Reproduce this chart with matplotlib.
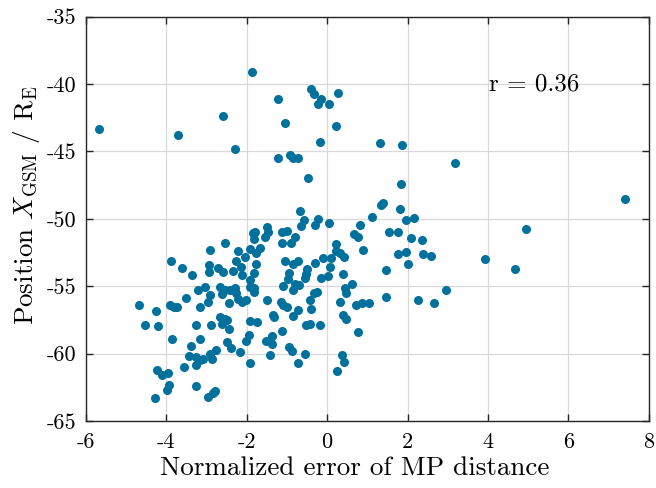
import matplotlib
matplotlib.use("Agg")
import matplotlib.pyplot as plt

# Normalized MP distance error vs. X_GSM position
err = [
    -1.87, -0.40, -0.33, 0.28, -0.16, -0.24, 0.05, -1.22, -1.04, -2.59,
    -5.67, -3.70, 0.22, -0.17, 1.32, 1.86, -2.30, -1.22, -0.93, -0.85,
    -0.73, 3.17, -0.48, 1.83, 7.41, 1.39, 1.35, -0.67, 1.82, 1.12,
    2.16, 1.95, -0.58, -0.22, -0.66, -0.29, 0.05, 0.81, 4.95,
    -1.50, -1.47, -1.85, -1.80, -1.83, -1.55, -1.13, -0.99, -0.80, -1.12,
    -0.90, 0.66, 0.76, 1.54, 1.75, 2.09, 2.35, -2.55, 0.21, 0.88,
    -2.92, -2.22, -1.93, -1.66, -1.77, 1.75, 1.97, 2.38, 2.59, 0.22,
    0.32, 0.41, -0.11, 0.09, 3.93, -2.05, -2.27, -1.05, -0.73, -1.76,
    -2.93, -0.31, -0.86, 2.02, -3.88, -3.62, -2.71, -2.59, -2.35, -2.94,
    -2.15, -2.13, -1.81, 0.06, -0.50, -0.52, -0.55, 4.67, 1.47, -3.37,
    0.39, -0.95, -0.98, -0.15, 0.03, -1.92, -1.92, -1.82, -2.67, -2.54,
    -2.42, -2.29, -2.27, -1.83, -1.10, -0.80, -0.71, -0.84, 0.62, 0.44,
    0.46, -0.26, -0.32, 2.95, -3.05, -3.21, -2.92, -2.96, -2.62, -3.52,
    1.46, -1.50, -0.43, -2.02, -2.21, -2.13, -2.44, -4.68, -3.91, -3.82,
    -3.74, -3.17, -1.16, -1.09, -1.00, 0.33, 0.71, 0.87, 1.04, 2.25,
    2.67, -0.39, -0.72, -4.25, -1.35, -1.33, -0.85, 0.39, 0.46, -2.67,
    -2.55, -2.50, -1.93, -1.75, -2.62, -4.53, -4.21, -3.25, -2.88, -0.53,
    -0.42, -0.17, -2.44, -1.12, 0.76, -3.87, -3.17, -1.94, -1.36, -1.42,
    -1.38, -1.53, -2.02, -2.50, -3.38, -2.39, -2.18, -0.94, -0.88, -3.43,
    -3.25, -3.16, -3.08, -2.92, -2.87, -2.76, -3.26, -1.43, -0.54, 0.38,
    0.42, -3.55, -1.91, -0.73, 0.25, -4.24, -4.12, -3.96, -3.94, -3.98,
    -3.26, -2.78, -2.83, -2.96, -4.29,
]
xgsm = [
    -39.1, -40.4, -40.75, -40.7, -41.1, -41.5, -41.5, -41.1, -42.9, -42.4,
    -43.35, -43.8, -43.1, -44.3, -44.37, -44.5, -44.8, -45.45, -45.3, -45.45,
    -45.45, -45.85, -46.97, -47.43, -48.5, -48.85, -49.0, -49.45, -49.25, -49.88,
    -49.9, -50.12, -50.05, -50.02, -50.5, -50.45, -50.28, -50.42, -50.75,
    -50.6, -50.95, -51.02, -50.95, -51.5, -51.35, -51.0, -50.88, -51.38, -51.82,
    -51.82, -51.15, -51.35, -50.95, -50.95, -51.4, -51.6, -51.8, -51.88, -52.28,
    -52.3, -52.4, -52.25, -52.15, -52.55, -52.58, -52.45, -52.6, -52.78, -52.38,
    -52.55, -52.85, -52.88, -52.9, -52.95, -52.8, -53.1, -53.1, -53.1, -53.35,
    -53.4, -53.25, -53.38, -53.35, -53.1, -53.65, -53.65, -53.95, -53.85, -53.95,
    -53.6, -54.15, -54.05, -53.6, -53.75, -54.1, -54.4, -53.7, -53.78, -54.15,
    -54.1, -54.05, -54.45, -54.38, -54.25, -54.5, -55.08, -55.1, -55.02, -55.3,
    -55.3, -55.15, -55.5, -55.45, -54.98, -54.85, -54.88, -55.25, -54.82, -55.1,
    -55.5, -55.4, -55.5, -55.3, -55.08, -55.28, -55.65, -56.2, -55.55, -55.85,
    -55.82, -56.05, -56.02, -56.0, -55.92, -56.17, -56.22, -56.38, -56.38, -56.52,
    -56.52, -56.5, -56.15, -56.42, -56.5, -56.2, -56.38, -56.22, -56.22, -56.0,
    -56.25, -56.65, -56.78, -56.8, -57.1, -57.3, -57.2, -57.12, -57.42, -57.3,
    -57.4, -57.48, -57.55, -57.68, -57.78, -57.85, -57.98, -57.88, -57.88, -57.88,
    -57.8, -57.88, -58.18, -58.35, -58.4, -58.92, -58.88, -58.6, -58.65, -59.05,
    -59.3, -59.08, -59.08, -59.13, -59.45, -59.6, -59.88, -59.48, -59.8, -60.15,
    -60.28, -60.5, -60.38, -60.05, -60.38, -59.72, -60.85, -60.12, -60.05, -60.08,
    -60.58, -60.95, -60.68, -60.72, -61.25, -61.2, -61.58, -61.45, -62.3, -62.72,
    -62.4, -62.75, -62.9, -63.2, -63.3,
]
r_text = "r = 0.36"

plt.rcParams["font.family"] = "serif"
plt.rcParams["font.serif"] = ["cmr10", "DejaVu Serif"]
plt.rcParams["mathtext.fontset"] = "cm"
plt.rcParams["axes.unicode_minus"] = False
plt.rcParams["axes.formatter.use_mathtext"] = False

fig = plt.figure(figsize=(6.56, 4.88), dpi=100)
ax = fig.add_axes([0.131, 0.137, 0.858, 0.829])

ax.plot(err, xgsm, "o", color="#00709c", markersize=6.5,
        markeredgewidth=0, zorder=3)

ax.set_xlim(-6, 8)
ax.set_ylim(-65, -35)
ax.set_xticks(range(-6, 9, 2))
ax.set_yticks(range(-65, -34, 5))
ax.grid(True, color="#d9d9d9", linewidth=0.9)
ax.set_axisbelow(True)
ax.tick_params(direction="in", top=True, right=True, length=5,
               width=1, color="#262626", labelsize=16)
ax.tick_params(axis="x", pad=8.5)
ax.tick_params(axis="y", pad=7)
for s in ax.spines.values():
    s.set_color("#262626")
    s.set_linewidth(1.0)

ax.set_xlabel("Normalized error of MP distance", fontsize=19.5)
ax.set_ylabel(r"Position $X_{\mathrm{GSM}}$ / $\mathrm{R_E}$", fontsize=19.5)
ax.xaxis.set_label_coords(0.478, -0.088)
ax.yaxis.set_label_coords(-0.078, 0.533)
ax.text(4.02, -40, r_text, fontsize=18, va="center", ha="left")

fig.savefig("out.png", dpi=100)
